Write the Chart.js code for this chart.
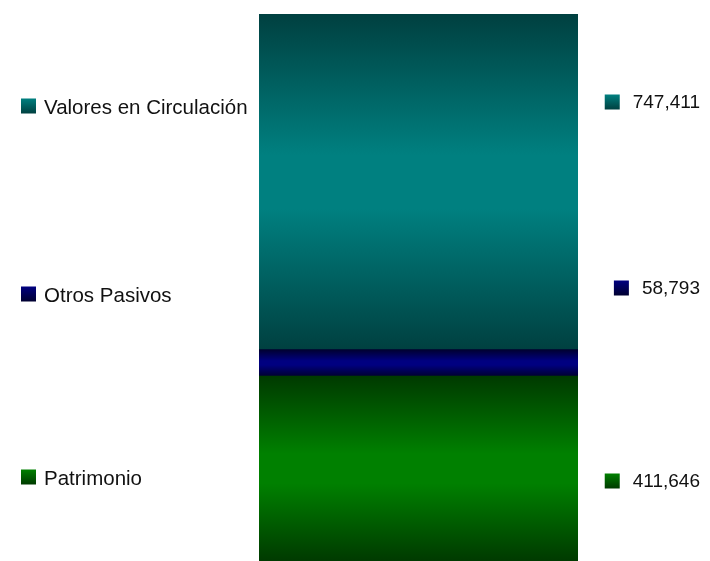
<!DOCTYPE html>
<html>
<head>
<meta charset="utf-8">
<script src="https://cdn.jsdelivr.net/npm/chart.js@4.4.0/dist/chart.umd.min.js"></script>
<style>
html,body{margin:0;padding:0;background:#fff;}
#wrap{width:710px;height:561px;position:relative;}
</style>
</head>
<body>
<div id="wrap"><canvas id="c"></canvas></div>
<script>
// Data (bottom segment first)
const segmentLabels = ['Patrimonio', 'Otros Pasivos', 'Valores en Circulación'];
const segmentValues = [411646, 58793, 747411];
const categories = [''];

// Colours: [edge, centre]
const segmentColors = [
  ['#003a00', '#008000'],
  ['#000030', '#000080'],
  ['#004040', '#008080']
];

const total = segmentValues.reduce((a, b) => a + b, 0);

function cumulative(i) {
  let s = 0;
  for (let k = 0; k < i; k++) s += segmentValues[k];
  return s;
}

function barGradient(context) {
  const chart = context.chart;
  const i = context.datasetIndex;
  const area = chart.chartArea;
  if (!area) return segmentColors[i][1];
  const y = chart.scales.y;
  const y0 = y.getPixelForValue(cumulative(i));
  const y1 = y.getPixelForValue(cumulative(i) + segmentValues[i]);
  const g = chart.ctx.createLinearGradient(0, y1, 0, y0);
  g.addColorStop(0, segmentColors[i][0]);
  g.addColorStop(0.42, segmentColors[i][1]);
  g.addColorStop(0.58, segmentColors[i][1]);
  g.addColorStop(1, segmentColors[i][0]);
  return g;
}

const leftLabelY = [478, 295, 107];
const rightLabelY = [481, 288, 102];

const labelPlugin = {
  id: 'sideLabels',
  afterDraw(chart) {
    const c = chart.ctx;
    c.save();
    c.font = '20.5px "Liberation Sans", Arial, sans-serif';
    c.textBaseline = 'middle';
    const sq = 15;
    function square(x, y, i) {
      const g = c.createLinearGradient(0, y - sq / 2, 0, y + sq / 2);
      g.addColorStop(0, segmentColors[i][1]);
      g.addColorStop(1, segmentColors[i][0]);
      c.fillStyle = g;
      c.fillRect(x, y - sq / 2, sq, sq);
    }
    segmentLabels.forEach((lab, i) => {
      const y = leftLabelY[i];
      square(21, y - 1, i);
      c.fillStyle = '#111';
      c.textAlign = 'left';
      c.fillText(lab, 44, y + 1);
    });
    c.font = '19px "Liberation Sans", Arial, sans-serif';
    segmentValues.forEach((v, i) => {
      const y = rightLabelY[i];
      const txt = v.toLocaleString('en-US');
      const w = c.measureText(txt).width;
      const xr = 700;
      square(xr - w - 28, y, i);
      c.fillStyle = '#111';
      c.textAlign = 'right';
      c.fillText(txt, xr, y + 1);
    });
    c.restore();
  }
};

new Chart(document.getElementById('c'), {
  type: 'bar',
  data: {
    labels: categories,
    datasets: segmentLabels.map((lab, i) => ({
      label: lab,
      data: [segmentValues[i]],
      backgroundColor: barGradient,
      borderWidth: 0,
      barPercentage: 1,
      categoryPercentage: 1
    }))
  },
  options: {
    responsive: true,
    maintainAspectRatio: false,
    animation: false,
    layout: { padding: { left: 259, right: 132, top: 14, bottom: 0 } },
    plugins: { legend: { display: false }, tooltip: { enabled: false } },
    scales: {
      x: { stacked: true, display: false, grid: { display: false } },
      y: { stacked: true, display: false, min: 0, max: total, grid: { display: false } }
    }
  },
  plugins: [labelPlugin]
});
</script>
</body>
</html>
